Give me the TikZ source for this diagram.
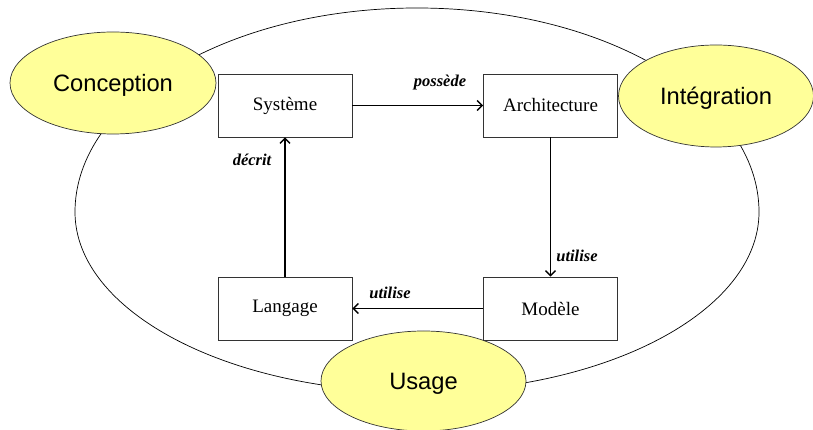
\documentclass[tikz,border=0pt]{standalone}
\usepackage{fontspec}
\setmainfont{Liberation Serif}
\newfontfamily\arialfont{Liberation Sans}
\usetikzlibrary{arrows.meta,shapes.geometric}
\definecolor{phasefill}{RGB}{255,255,153}
\tikzset{
  phase/.style={ellipse, draw=black!80, line width=0.7pt, fill=phasefill,
    font=\arialfont\fontsize{23.7}{26}\selectfont, inner sep=0pt,
    text height=17pt, text depth=0pt},
  entity/.style={rectangle, draw=black!80, line width=0.9pt, fill=white,
    minimum width=134pt, minimum height=63pt, inner sep=0pt,
    font=\fontsize{19}{21}\selectfont},
  rel/.style={line width=1.4pt, -{Straight Barb[length=5pt,width=10pt,line width=1.4pt]}},
  rellabel/.style={font=\bfseries\itshape\fontsize{16.5}{18}\selectfont, inner sep=0pt}
}
\begin{document}
\begin{tikzpicture}[x=1pt,y=1pt]
\useasboundingbox (0,0) rectangle (813,430);
% big cycle outline
\draw[line width=0.7pt] (75,218) arc[start angle=180,end angle=0,x radius=342pt,y radius=204pt]
  arc[start angle=0,end angle=-180,x radius=342pt,y radius=180pt] -- cycle;
% phases
\node[phase, minimum width=206pt, minimum height=102pt] (conc) at (113,347) {Conception};
\node[phase, minimum width=195pt, minimum height=102pt] (integ) at (716,334) {Intégration};
\node[phase, minimum width=205pt, minimum height=100pt] (usage) at (423.5,49) {Usage};
% entities
\node[entity] (sys) at (285,324.5) {Système};
\node[entity] (arch) at (550.5,324.5) {Architecture};
\node[entity] (lang) at (285,121.5) {Langage};
\node[entity] (mod) at (550.5,121.5) {Modèle};
% relations
\draw[rel] (sys) -- (arch);
\draw[rel] (arch) -- (mod);
\draw[rel] (mod) -- (lang);
\draw[rel] (lang) -- (sys);
% labels
\node[rellabel] (lposs) at (440,347) {possède};
\node[rellabel] (ldec) at (252,270) {décrit};
\node[rellabel] (lut1) at (577,174) {utilise};
\node[rellabel] (lut2) at (390,137) {utilise};
\end{tikzpicture}
\end{document}
